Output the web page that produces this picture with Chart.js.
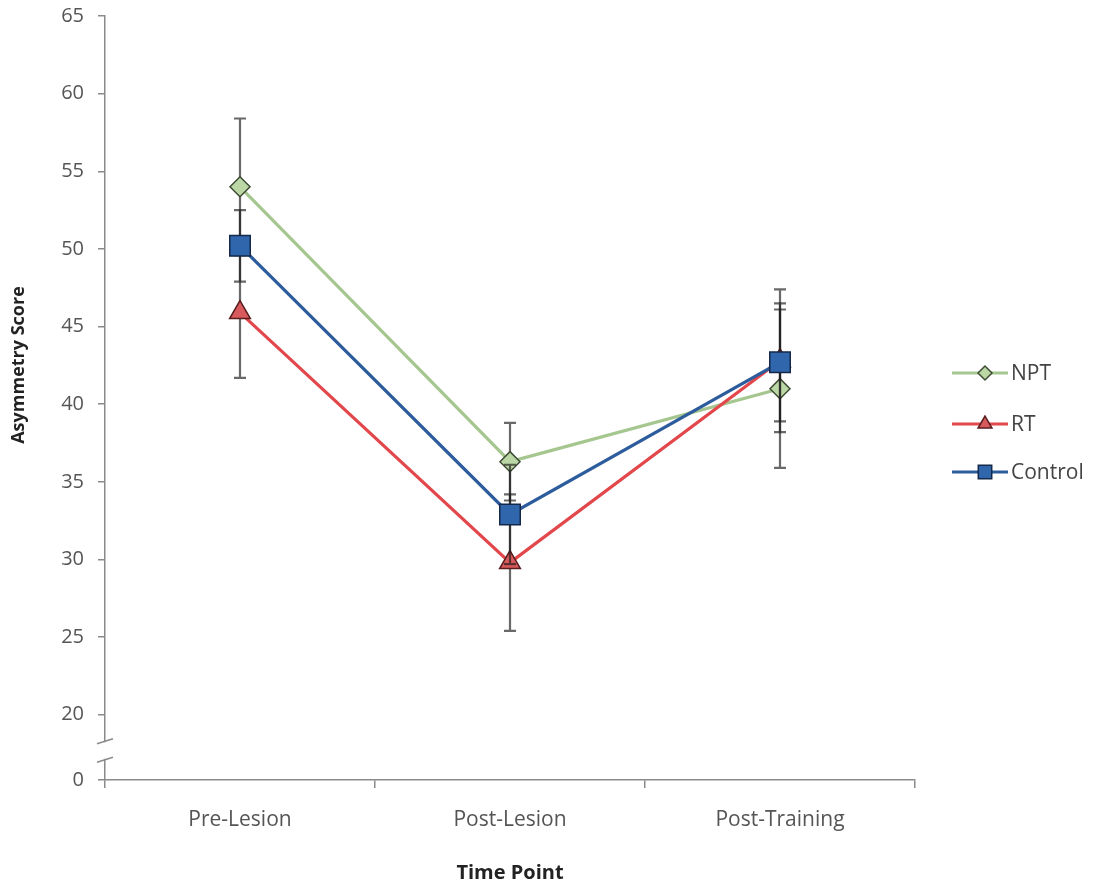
<!DOCTYPE html>
<html>
<head>
<meta charset="utf-8">
<script src="https://cdn.jsdelivr.net/npm/chart.js@4"></script>
<style>
  html, body { margin: 0; padding: 0; background: #fff; }
  #wrap { width: 1096px; height: 886px; }
</style>
</head>
<body>
<div id="wrap"><canvas id="chart"></canvas></div>
<script>
// categories
const timePoints = ['Pre-Lesion', 'Post-Lesion', 'Post-Training'];

// mean asymmetry score per group
const nptValues = [54.0, 36.3, 41.0];
const rtValues = [45.9, 29.8, 42.8];
const controlValues = [50.2, 32.9, 42.7];

// error bar half-lengths (+/-)
const nptErr = [4.4, 2.5, 5.1];
const rtErr = [4.2, 4.4, 4.6];
const controlErr = [2.3, 3.2, 3.8];

// y axis: broken axis, the "0" label sits just below the break
const yTicks = [20, 25, 30, 35, 40, 45, 50, 55, 60, 65];
const yBreakValue = 15.8;
const yBreakLabel = '0';

const FONT = "'Open Sans', 'Liberation Sans', sans-serif";
const TICK_COLOR = '#555';
const AXIS_COLOR = '#8a8a8a';

// error bars drawn under each dataset, so later markers cover them
const errorBars = {
  id: 'errorBars',
  beforeDatasetDraw(chart, args) {
    const ds = chart.data.datasets[args.index];
    if (!ds.errors) return;
    const y = chart.scales.y;
    const ctx = chart.ctx;
    ctx.save();
    ctx.strokeStyle = 'rgba(25,25,25,0.65)';
    ctx.lineWidth = 2.2;
    args.meta.data.forEach((pt, i) => {
      const e = ds.errors[i];
      const top = y.getPixelForValue(ds.data[i] + e);
      const bot = y.getPixelForValue(ds.data[i] - e);
      ctx.beginPath();
      ctx.moveTo(pt.x, top); ctx.lineTo(pt.x, bot);
      ctx.moveTo(pt.x - 6, top); ctx.lineTo(pt.x + 6, top);
      ctx.moveTo(pt.x - 6, bot); ctx.lineTo(pt.x + 6, bot);
      ctx.stroke();
    });
    ctx.restore();
  }
};

// axis break marks, axis titles and the legend on the right
const decorations = {
  id: 'decorations',
  afterDraw(chart) {
    const ctx = chart.ctx;
    const y = chart.scales.y;
    const ax = chart.chartArea.left;
    const yUp = y.getPixelForValue(18.3);
    const yLo = y.getPixelForValue(17.1);
    ctx.save();
    ctx.fillStyle = '#fff';
    ctx.fillRect(ax - 3, yUp + 1, 6, yLo - yUp - 2);
    ctx.strokeStyle = AXIS_COLOR;
    ctx.lineWidth = 1.5;
    [yUp, yLo].forEach(py => {
      ctx.beginPath();
      ctx.moveTo(ax - 8, py + 2.5);
      ctx.lineTo(ax + 8, py - 2.5);
      ctx.stroke();
    });

    // axis titles
    ctx.fillStyle = '#222';
    ctx.textAlign = 'center';
    ctx.textBaseline = 'middle';
    ctx.font = 'bold 20px ' + FONT;
    ctx.fillText('Time Point', (chart.chartArea.left + chart.chartArea.right) / 2, 873);
    ctx.save();
    ctx.translate(19, 365);
    ctx.rotate(-Math.PI / 2);
    ctx.font = 'bold 18px ' + FONT;
    ctx.fillText('Asymmetry Score', 0, 0);
    ctx.restore();

    // legend
    const legendY = [373, 424, 472];
    chart.data.datasets.forEach((ds, i) => {
      const ly = legendY[i];
      ctx.strokeStyle = ds.borderColor;
      ctx.lineWidth = 3;
      ctx.beginPath();
      ctx.moveTo(952, ly); ctx.lineTo(1008, ly);
      ctx.stroke();
      ctx.fillStyle = ds.pointBackgroundColor;
      ctx.strokeStyle = ds.pointBorderColor;
      ctx.lineWidth = 1.5;
      Chart.helpers.drawPoint(ctx, {
        pointStyle: ds.pointStyle, radius: ds.legendRadius, rotation: 0, borderWidth: 1.5
      }, 985, ly);
      ctx.fillStyle = '#444';
      ctx.textAlign = 'left';
      ctx.font = '21px ' + FONT;
      ctx.fillText(ds.label, 1011, ly + 1);
    });
    ctx.restore();
  }
};

new Chart(document.getElementById('chart'), {
  type: 'line',
  data: {
    labels: timePoints,
    datasets: [
      {
        label: 'NPT', data: nptValues, errors: nptErr, order: 3,
        borderColor: '#a6c68f', borderWidth: 3.2,
        pointStyle: 'rectRot', pointRadius: 10, legendRadius: 7,
        pointBackgroundColor: '#bcd7a6', pointBorderColor: '#3f4c35', pointBorderWidth: 1.5
      },
      {
        label: 'RT', data: rtValues, errors: rtErr, order: 2,
        borderColor: '#e2474b', borderWidth: 3.2,
        pointStyle: 'triangle', pointRadius: 12, legendRadius: 8,
        pointBackgroundColor: '#d85a5d', pointBorderColor: '#5a1e1e', pointBorderWidth: 1.5
      },
      {
        label: 'Control', data: controlValues, errors: controlErr, order: 1,
        borderColor: '#2c5c9c', borderWidth: 3.2,
        pointStyle: 'rect', pointRadius: 14.5, legendRadius: 9.5,
        pointBackgroundColor: '#2f66ac', pointBorderColor: '#14284a', pointBorderWidth: 1.5
      }
    ]
  },
  options: {
    responsive: true,
    maintainAspectRatio: false,
    animation: false,
    layout: { padding: { left: 0, right: 181, top: 15, bottom: 0 } },
    plugins: { legend: { display: false }, tooltip: { enabled: false } },
    elements: { line: { tension: 0 } },
    scales: {
      x: {
        type: 'category',
        offset: true,
        afterFit: s => { s.height = 106; s.paddingLeft = 0; s.paddingRight = 0; },
        grid: { offset: true, drawOnChartArea: false, tickLength: 8, color: AXIS_COLOR, lineWidth: 1.5 },
        border: { color: AXIS_COLOR, width: 1.5 },
        ticks: { color: TICK_COLOR, font: { family: FONT, size: 21 }, padding: 19 }
      },
      y: {
        type: 'linear',
        min: yBreakValue,
        max: 65,
        afterFit: s => { s.width = 105; s.paddingTop = 0; s.paddingBottom = 0; },
        afterBuildTicks: s => { s.ticks = [yBreakValue, ...yTicks].map(v => ({ value: v })); },
        grid: { drawOnChartArea: false, tickLength: 7, color: AXIS_COLOR, lineWidth: 1.5 },
        border: { color: AXIS_COLOR, width: 1.5 },
        ticks: {
          color: TICK_COLOR, font: { family: FONT, size: 20 }, padding: 14,
          callback: v => (v === yBreakValue ? yBreakLabel : String(v))
        }
      }
    }
  },
  plugins: [errorBars, decorations]
});
</script>
</body>
</html>
